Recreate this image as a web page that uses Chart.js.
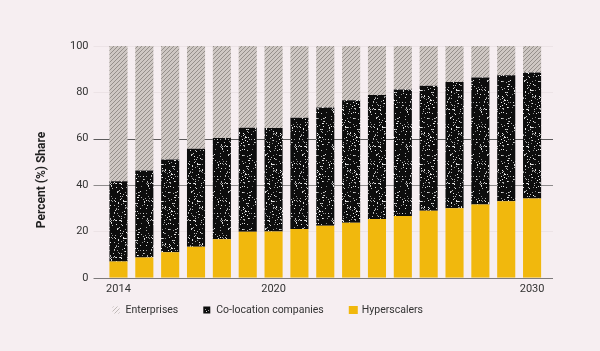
<!DOCTYPE html>
<html>
<head>
<meta charset="utf-8">
<script src="https://cdn.jsdelivr.net/npm/chart.js@4.4.1/dist/chart.umd.min.js"></script>
<style>
  html, body { margin: 0; padding: 0; background: #f6eef1; }
  #wrap { width: 600px; height: 351px; position: relative; }
</style>
</head>
<body>
<div id="wrap"><canvas id="c" width="600" height="351"></canvas></div>
<script>
// ---- data ----
const years = ['2014','2015','2016','2017','2018','2019','2020','2021','2022','2023','2024','2025','2026','2027','2028','2029','2030'];
const shownYears = ['2014','2020','2030'];
const hyperscalers = [7, 8.8, 11, 13.4, 16.6, 19.9, 20, 21, 22.5, 23.8, 25.4, 26.7, 28.9, 30, 31.6, 33, 34.2];
const colocation = [34.7, 37.5, 40, 42.3, 43.7, 44.8, 44.6, 48.1, 51, 52.8, 53.5, 54.5, 53.9, 54.5, 54.8, 54.4, 54.4];
const enterprises = [58.3, 53.7, 49, 44.3, 39.7, 35.3, 35.4, 30.9, 26.5, 23.4, 21.1, 18.8, 17.2, 15.5, 13.6, 12.6, 11.4];
const yTicks = [0, 20, 40, 60, 80, 100];
const yTitle = 'Percent (%) Share';
const seriesNames = ['Hyperscalers', 'Co-location companies', 'Enterprises'];

// ---- patterns ----
function hatchPattern(bg, fg, size) {
  const c = document.createElement('canvas');
  c.width = size; c.height = size;
  const x = c.getContext('2d');
  if (bg) { x.fillStyle = bg; x.fillRect(0, 0, size, size); }
  x.strokeStyle = fg; x.lineWidth = 0.9;
  x.beginPath();
  x.moveTo(0, size); x.lineTo(size, 0);
  x.moveTo(-1, 1); x.lineTo(1, -1);
  x.moveTo(size - 1, size + 1); x.lineTo(size + 1, size - 1);
  x.stroke();
  return x.createPattern(c, 'repeat');
}
function speckPattern() {
  const s = 37;
  const c = document.createElement('canvas');
  c.width = s; c.height = s;
  const x = c.getContext('2d');
  x.fillStyle = '#0d0d0d'; x.fillRect(0, 0, s, s);
  let a = 24681357;
  const rnd = () => {
    a |= 0; a = a + 0x6D2B79F5 | 0;
    let t = Math.imul(a ^ a >>> 15, 1 | a);
    t = t + Math.imul(t ^ t >>> 7, 61 | t) ^ t;
    return ((t ^ t >>> 14) >>> 0) / 4294967296;
  };
  for (let i = 0; i < s * s; i++) {
    if (rnd() < 0.11) {
      const g = Math.floor(130 + rnd() * 125);
      x.fillStyle = 'rgb(' + g + ',' + g + ',' + g + ')';
      x.fillRect(i % s, Math.floor(i / s), 1, 1);
    }
  }
  return x.createPattern(c, 'repeat');
}
const entFill = hatchPattern('#cec7c3', '#8f8985', 4);
const entSwatch = hatchPattern(null, '#b9b2b0', 4);
const colFill = speckPattern();
const hypFill = '#f1b80d';

// ---- plugins ----
const gridPlugin = {
  id: 'customGrid',
  beforeDatasetsDraw(chart) {
    const y = chart.scales.y, a = chart.chartArea, ctx = chart.ctx;
    const colors = {0: '#7d7a7b', 20: '#ece3e6', 40: '#8e8b8c', 60: '#5c5a5b', 80: '#ece3e6', 100: '#ece3e6'};
    ctx.save();
    ctx.lineWidth = 1;
    yTicks.forEach(v => {
      const py = Math.round(y.getPixelForValue(v)) + 0.5;
      ctx.strokeStyle = colors[v];
      ctx.beginPath();
      ctx.moveTo(a.left - 12, py);
      ctx.lineTo(a.right + 8, py);
      ctx.stroke();
    });
    ctx.restore();
  }
};
const titlePlugin = {
  id: 'yTitle',
  afterDraw(chart) {
    const ctx = chart.ctx;
    ctx.save();
    ctx.translate(42, 180);
    ctx.rotate(-Math.PI / 2);
    ctx.font = 'bold 12px Roboto';
    ctx.fillStyle = '#222';
    ctx.textAlign = 'center';
    ctx.textBaseline = 'middle';
    ctx.fillText(yTitle, 0, 0);
    ctx.restore();
  }
};
const legendPlugin = {
  id: 'customLegend',
  afterDraw(chart) {
    const ctx = chart.ctx, a = chart.chartArea;
    const ds = chart.data.datasets.slice().reverse();
    const swatches = [entSwatch, colFill, hypFill];
    const sizes = [[7, 7], [7, 7], [9, 8]];
    let x = a.left + 7;
    const cy = 310;
    ctx.save();
    ctx.font = '10.5px Roboto';
    ctx.textBaseline = 'middle';
    ds.forEach((d, i) => {
      const [w, h] = sizes[i];
      ctx.fillStyle = swatches[i];
      ctx.fillRect(x, cy - h / 2, w, h);
      const tx = x + 13;
      ctx.fillStyle = '#333';
      ctx.fillText(d.label, tx, cy);
      x = tx + ctx.measureText(d.label).width + 25;
    });
    ctx.restore();
  }
};

new Chart(document.getElementById('c'), {
  type: 'bar',
  data: {
    labels: years,
    datasets: [
      { label: seriesNames[0], data: hyperscalers, backgroundColor: hypFill },
      { label: seriesNames[1], data: colocation, backgroundColor: colFill },
      { label: seriesNames[2], data: enterprises, backgroundColor: entFill }
    ]
  },
  options: {
    responsive: false,
    animation: false,
    devicePixelRatio: 1,
    layout: { padding: { left: 53, right: 55, top: 46, bottom: 50 } },
    datasets: { bar: { barPercentage: 0.7, categoryPercentage: 1.0, borderWidth: 0 } },
    plugins: { legend: { display: false }, tooltip: { enabled: false } },
    scales: {
      x: {
        stacked: true,
        grid: { display: false, drawTicks: false },
        border: { display: false },
        ticks: {
          autoSkip: false, maxRotation: 0, padding: 5,
          font: { family: 'Roboto', size: 11 }, color: '#333',
          callback: function(v, i) { const l = this.getLabelForValue(v); return shownYears.includes(l) ? l : ''; }
        }
      },
      y: {
        stacked: true, min: 0, max: 100,
        grid: { display: false, drawTicks: false },
        border: { display: false },
        ticks: { stepSize: 20, padding: 17, font: { family: 'Roboto', size: 11 }, color: '#333' }
      }
    }
  },
  plugins: [gridPlugin, titlePlugin, legendPlugin]
});
</script>
</body>
</html>
